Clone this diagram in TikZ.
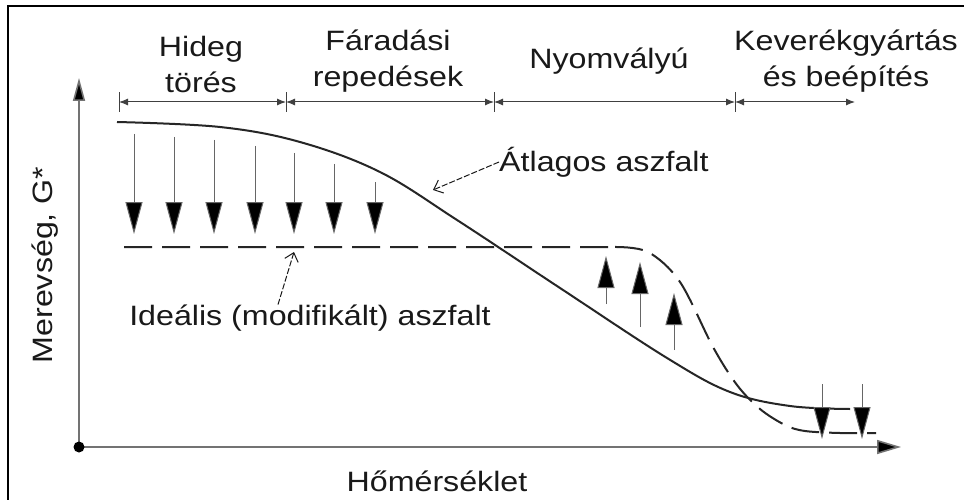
\documentclass[tikz,border=0pt]{standalone}
\usepackage{fontspec}
\setmainfont[FakeStretch=1.15]{Liberation Sans}
\usetikzlibrary{arrows.meta}
\begin{document}
\begin{tikzpicture}[x=1pt,y=-1pt,
  font=\fontsize{28}{36}\selectfont,
  lbl/.style={inner sep=0pt, align=center, text=black!90},
  axisline/.style={draw=black!55, line width=1.6pt},
  bigdown/.style={draw=black!60, line width=1pt, -{Triangle[length=32pt,width=17pt,fill=black]}},
  dimline/.style={draw=black!75, line width=1pt},
  dimtip/.style={{Latex[length=9pt,width=7pt]}-{Latex[length=9pt,width=7pt]}},
  pointer/.style={draw=black!90, line width=1pt, dash pattern=on 6pt off 2pt, -{Straight Barb[length=8pt,width=14pt]}},
  avgcurve/.style={draw=black!85, line width=2pt},
  idealcurve/.style={draw=black!85, line width=2pt, dash pattern=on 28pt off 10pt}]
\useasboundingbox (0,0) rectangle (964,500);
\fill[white] (0,0) rectangle (964,500);
% frame
\draw[line width=2.5pt] (8,500) -- (8,6) -- (964,6);

% axes
\coordinate (O) at (79,447);
\coordinate (ytop) at (79,78);
\coordinate (xend) at (901,447);
\draw[axisline, -{Triangle[length=23pt,width=12pt,fill=black]}] (O) -- (ytop);
\draw[axisline, -{Triangle[length=24pt,width=14pt,fill=black]}] (O) -- (xend);
\fill[black] (O) circle (5.5pt);

% dimension line
\coordinate (t1) at (119,102);
\coordinate (t2) at (286,102);
\coordinate (t3) at (494,102);
\coordinate (t4) at (735,102);
\coordinate (t5) at (855,102);
\foreach \p in {t1,t2,t3,t4}{\draw[dimline] ([yshift=-10pt]\p) -- ([yshift=10pt]\p);}
\draw[dimline, dimtip] (t1) -- (t2);
\draw[dimline, dimtip] (t2) -- (t3);
\draw[dimline, dimtip] (t3) -- (t4);
\draw[dimline, dimtip] (t4) -- (t5);

% region labels
\node[lbl] (hideg) at (201,64) {Hideg\\törés};
\node[lbl] (farad) at (388,61) {Fáradási\\repedések};
\node[lbl] (nyom) at (609,61) {Nyomvályú};
\node[lbl] (kever) at (846,61) {Keverékgyártás\\és beépítés};

% curves
\draw[avgcurve] plot[smooth, tension=0.6] coordinates {(117,122) (220,127) (300,142) (380,172) (457,220) (560,288) (667,358) (730,392) (790,406) (850,409)};
\draw[idealcurve] (124,247) -- (615,247) plot[smooth, tension=0.55] coordinates {(615,247) (648,252) (680,282) (713,347) (737,385) (760,409) (785,425) (805,431) (840,433) (876,433)};

% down arrows (left group)
\foreach \x/\y in {134/134, 174/137, 214/140, 255/146, 294/153, 334/164, 375/182}{
  \draw[bigdown] (\x,\y) -- (\x,234);
}
% up arrows (middle)
\draw[bigdown] (606,304) -- (606,256);
\draw[bigdown] (640,327) -- (640,262);
\draw[bigdown] (674,350) -- (674,293);
% down arrows (right)
\draw[bigdown] (822,384) -- (822,439);
\draw[bigdown] (862,384) -- (862,439);

% annotations
\node[lbl, anchor=west] (atl) at (499,162) {Átlagos aszfalt};
\coordinate (atlp) at (433,190);
\draw[pointer] (atl.west) -- (atlp);
\node[lbl] (ideal) at (310,318) {Ideális (modifikált) aszfalt};
\coordinate (idealp) at (294,252);
\draw[pointer] ([xshift=-32pt]ideal.north) -- (idealp);

% axis labels
\node[lbl] (xlab) at (437,481) {Hőmérséklet};
\node[lbl, rotate=90] (ylab) at (45,265) {Merevség, G*};
\end{tikzpicture}
\end{document}
